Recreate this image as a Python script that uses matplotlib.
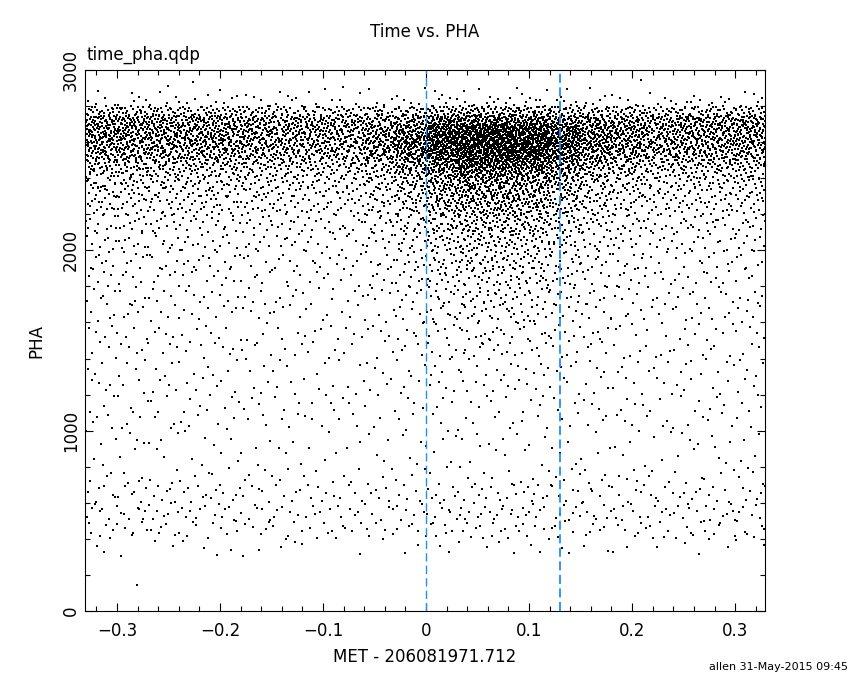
import numpy as np
import matplotlib
matplotlib.use("Agg")
import matplotlib.pyplot as plt
from matplotlib.ticker import MultipleLocator, FuncFormatter

# number of events per PHA band (whole time range)
pha_edges = list(range(0, 2200, 100)) + list(range(2200, 3001, 50))
quiet_pha = [0, 1, 3, 35, 115, 135, 120, 70, 40, 50,
             70, 70, 70, 72, 75, 82, 90, 100, 112, 130,
             160, 210,
             140, 165, 195, 235, 300, 400, 580, 690,
             740, 760, 700, 380, 70, 28, 5, 1]
flare_pha = [0, 0, 0, 0, 4, 8, 4, 0, 0, 0,
             0, 0, 4, 8, 12, 20, 30, 40, 55, 70,
             90, 130,
             90, 100, 110, 125, 170, 230, 300, 330,
             300, 230, 110, 40, 10, 0, 0, 0]

# relative event rate per 0.03 s time bin
t_edges = np.linspace(-0.33, 0.33, 23)
quiet_time = [1.1, 1.1, 1.05, 1.0, 1.0, 0.95, 0.9, 0.85, 0.85, 0.85, 0.9,
              1.0, 1.0, 1.0, 1.0, 1.0, 1.0, 1.0, 0.95, 1.0, 1.0, 1.05]
flare_time = [0, 0, 0, 0, 0, 0, 0, 0, 0, 0.12, 0.35,
              0.7, 1.0, 1.0, 0.85, 0.5, 0.2, 0.08, 0, 0, 0, 0]

t_zero = 0.0
t_mark = 0.130


def radical_inverse(n, base):
    n = np.asarray(n, dtype=np.int64).copy()
    out = np.zeros(n.shape)
    f = 1.0 / base
    while np.any(n > 0):
        out += f * (n % base)
        n //= base
        f /= base
    return out


# events: cell counts from the tables, spread inside each cell with a
# scrambled Halton sequence (deterministic)
qt = np.array(quiet_time) / np.sum(quiet_time)
ft = np.array(flare_time) / np.sum(flare_time)
counts = np.outer(qt, quiet_pha) + np.outer(ft, flare_pha)

cells_t, cells_p = [], []
carry = 0.0
for i in range(len(t_edges) - 1):
    for j in range(len(pha_edges) - 1):
        c = counts[i, j] + carry
        n = int(round(c))
        carry = c - n
        cells_t += [i] * n
        cells_p += [j] * n
cells_t = np.array(cells_t)
cells_p = np.array(cells_p)
k = np.arange(len(cells_t), dtype=np.int64)
idx = (k * 7919 + 12345) % 1000003 + 1
u = radical_inverse(idx, 2)
v = radical_inverse(idx, 3)
te = np.array(t_edges)
pe = np.array(pha_edges, dtype=float)
times = te[cells_t] + u * (te[cells_t + 1] - te[cells_t])
phas = pe[cells_p] + v * (pe[cells_p + 1] - pe[cells_p])

fig = plt.figure(figsize=(8.5, 6.8), dpi=100)
ax = fig.add_axes([0.1, 0.1015, 0.8, 0.7955])

ax.scatter(times, phas, s=1.9, marker='s', c='black', linewidths=0)
ax.axvline(t_zero, color='#1f8fff', lw=1.0, linestyle=(0, (6, 3)))
ax.axvline(t_mark, color='#1f8fff', lw=1.3, linestyle=(0, (5, 2.5)))

ax.set_xlim(-0.331, 0.329)
ax.set_ylim(0, 3000)
ax.xaxis.set_major_locator(MultipleLocator(0.1))
ax.xaxis.set_minor_locator(MultipleLocator(0.02))
ax.yaxis.set_major_locator(MultipleLocator(1000))
ax.yaxis.set_minor_locator(MultipleLocator(200))
ax.xaxis.set_major_formatter(FuncFormatter(
    lambda x, p: '0' if abs(x) < 1e-9 else f'{x:.1f}'.replace('-', '\u2212')))
ax.tick_params(which='both', direction='in', top=True, right=True,
               labelsize=12, width=0.8)
ax.tick_params(which='major', length=6)
ax.tick_params(which='minor', length=3.5)
ax.tick_params(axis='x', pad=8)
for lab in ax.get_yticklabels():
    lab.set_rotation(90)
    lab.set_va('center')
for sp in ax.spines.values():
    sp.set_linewidth(0.8)

ax.set_xlabel('MET - 206081971.712', fontsize=12, labelpad=6)
ax.set_ylabel('PHA', fontsize=12, labelpad=12)
fig.text(0.5, 0.953, 'Time vs. PHA', ha='center', va='center', fontsize=12)
fig.text(0.102, 0.919, 'time_pha.qdp', ha='left', va='center', fontsize=12)
fig.text(0.998, 0.012, 'allen 31-May-2015 09:45', ha='right', va='bottom', fontsize=8)

fig.savefig('out.png', dpi=100)
